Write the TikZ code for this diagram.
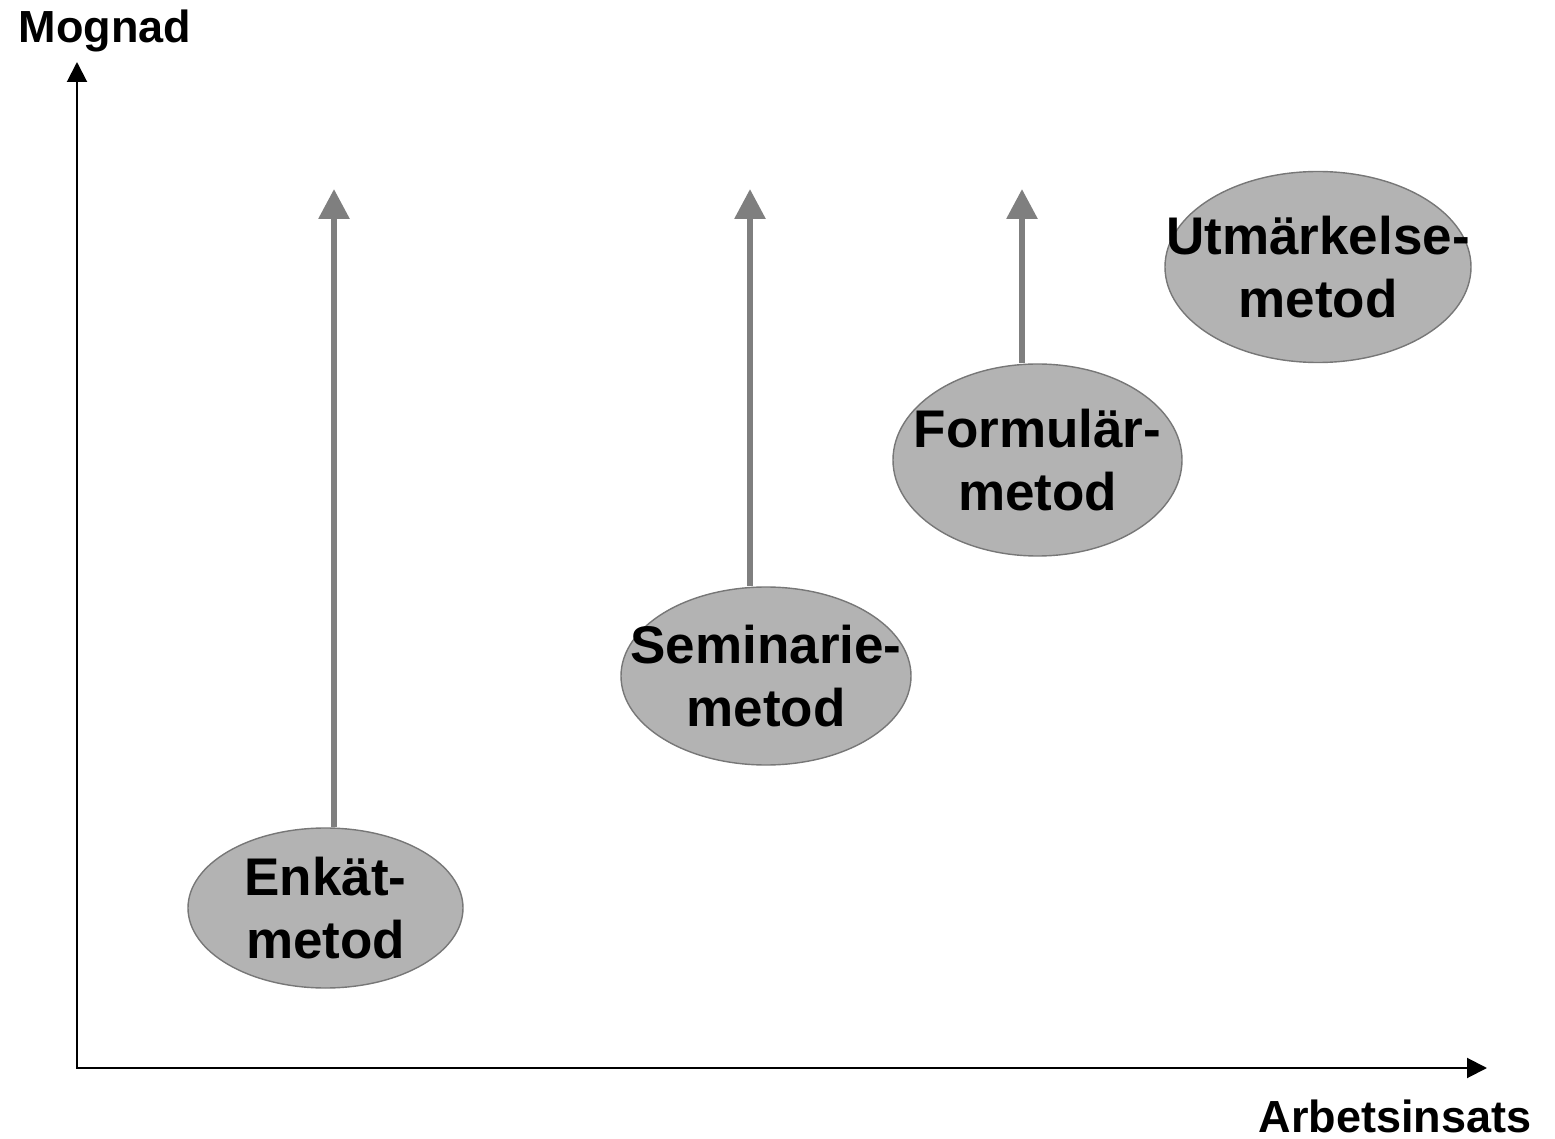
\documentclass[tikz,border=0pt]{standalone}
\usepackage{fontspec}
\setmainfont{Liberation Sans}
\usetikzlibrary{shapes.geometric,arrows.meta}
\definecolor{methodfill}{HTML}{B3B3B3}
\definecolor{methodline}{HTML}{777777}
\definecolor{growth}{HTML}{7F7F7F}
\begin{document}
\begin{tikzpicture}[x=0.5pt,y=-0.5pt,
  axis/.style={line width=1pt,black,{Triangle[length=10pt,width=10pt]}-{Triangle[length=10pt,width=10pt]}},
  axislabel/.style={font=\fontsize{22.5pt}{27pt}\selectfont\bfseries,inner sep=0pt,anchor=base},
  method/.style={ellipse,draw=methodline,line width=0.7pt,fill=methodfill,inner sep=0pt},
  methodtext/.style={font=\fontsize{26.5pt}{31.5pt}\selectfont\bfseries,align=center,inner sep=0pt},
  growtharrow/.style={draw=growth,line width=3pt,-{Triangle[length=15pt,width=15pt,fill=growth]}}
]
\useasboundingbox (0,0) rectangle (1555,1139);

% axes
\coordinate (origin) at (77,1068);
\coordinate (ytop) at (77,62);
\coordinate (xend) at (1487,1068);
\draw[axis] (ytop) -- (origin) -- (xend);
\node[axislabel] (ylab) at (105,43) {Mognad};
\node[axislabel] (xlab) at (1395,1132) {Arbetsinsats};

% methods (sizes in pt = half the pixel diameters)
\node[method,minimum width=137.5pt,minimum height=80pt] (enkat) at (325.5,908) {};
\node[methodtext] at (enkat.center) {Enkät-\\metod};
\node[method,minimum width=145pt,minimum height=89pt] (seminarie) at (766,676) {};
\node[methodtext] at (seminarie.center) {Seminarie-\\metod};
\node[method,minimum width=144.5pt,minimum height=96pt] (formular) at (1037.5,460) {};
\node[methodtext] at (formular.center) {Formulär-\\metod};
\node[method,minimum width=153pt,minimum height=95.5pt] (utmarkelse) at (1318,267) {};
\node[methodtext] at (utmarkelse.center) {Utmärkelse-\\metod};

% growth arrows
\coordinate (g1) at (334,189);
\coordinate (g2) at (750,189);
\coordinate (g3) at (1022,189);
\draw[growtharrow] (g1 |- enkat.north) -- (g1);
\draw[growtharrow] (g2 |- seminarie.north) -- (g2);
\draw[growtharrow] (g3 |- formular.north) -- (g3);
\end{tikzpicture}
\end{document}
